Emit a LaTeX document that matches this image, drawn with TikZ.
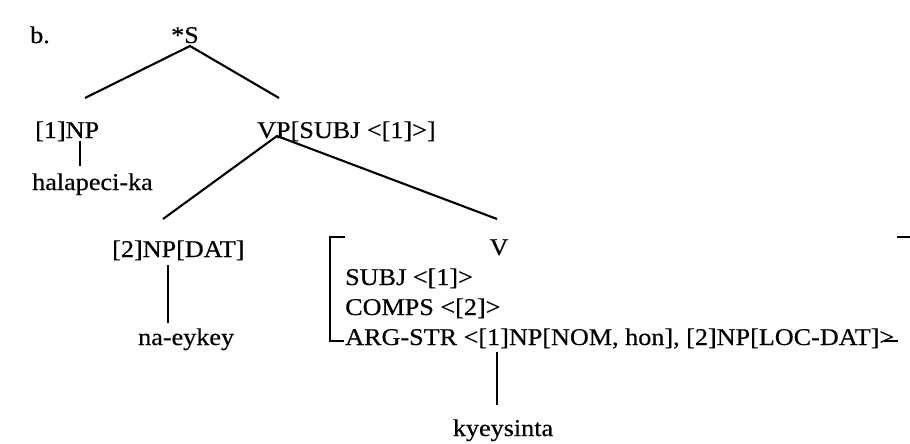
\documentclass[tikz,border=0pt]{standalone}
\usepackage{fontspec}
\setmainfont{Liberation Serif}[FakeStretch=1.09,FakeBold=0.5]
\begin{document}
\begin{tikzpicture}[x=1pt,y=-1pt,
  lbl/.style={inner sep=0pt,anchor=base west,font=\fontsize{24}{28}\selectfont},
  clbl/.style={inner sep=0pt,anchor=base,font=\fontsize{24}{28}\selectfont},
  branch/.style={line width=2.1pt},
  stem/.style={line width=1.6pt},
  brk/.style={line width=1.8pt}]
\useasboundingbox (0,0) rectangle (910,444);
% labels
\node[lbl] (b) at (30,43) {b.};
\node[clbl] (S) at (185,43) {*S};
\node[lbl] (NP1) at (35,138) {[1]NP};
\node[lbl] (VP) at (257,138) {VP[SUBJ <[1]>]};
\node[lbl] (hal) at (32,190) {halapeci-ka};
\node[lbl] (NP2) at (112,257) {[2]NP[DAT]};
\node[clbl] (V) at (499,255) {V};
\node[lbl] (subj) at (345,285) {SUBJ <[1]>};
\node[lbl] (comps) at (345,315) {COMPS <[2]>};
\node[lbl] (arg) at (345,345) {ARG-STR <[1]NP[NOM, hon], [2]NP[LOC-DAT]>};
\node[lbl] (nae) at (138,345) {na-eykey};
\node[clbl] (kye) at (503,436) {kyeysinta};
% branch points
\coordinate (Sb) at (190,46);
\coordinate (NP1t) at (85,98);
\coordinate (VPt) at (279,98);
\coordinate (VPb) at (277,136);
\coordinate (NP2t) at (163,219);
\coordinate (Vt) at (497,219);
\coordinate (NP1b) at (80,141);
\coordinate (halt) at (80,166);
\coordinate (NP2b) at (168,265);
\coordinate (naet) at (168,323);
\coordinate (argb) at (497,352);
\coordinate (kyet) at (497,405);
% connectors
\draw[branch] (NP1t) -- (Sb) -- (VPt);
\draw[branch] (NP2t) -- (VPb) -- (Vt);
\draw[stem] (NP1b) -- (halt);
\draw[stem] (NP2b) -- (naet);
\draw[stem] (argb) -- (kyet);
% AVM brackets
\draw[brk] (345,237) -- (330,237) -- (330,341) -- (344,341);
\draw[brk] (897,237) -- (910,237);
\draw[brk] (884,341) -- (898,341);
\end{tikzpicture}
\end{document}
